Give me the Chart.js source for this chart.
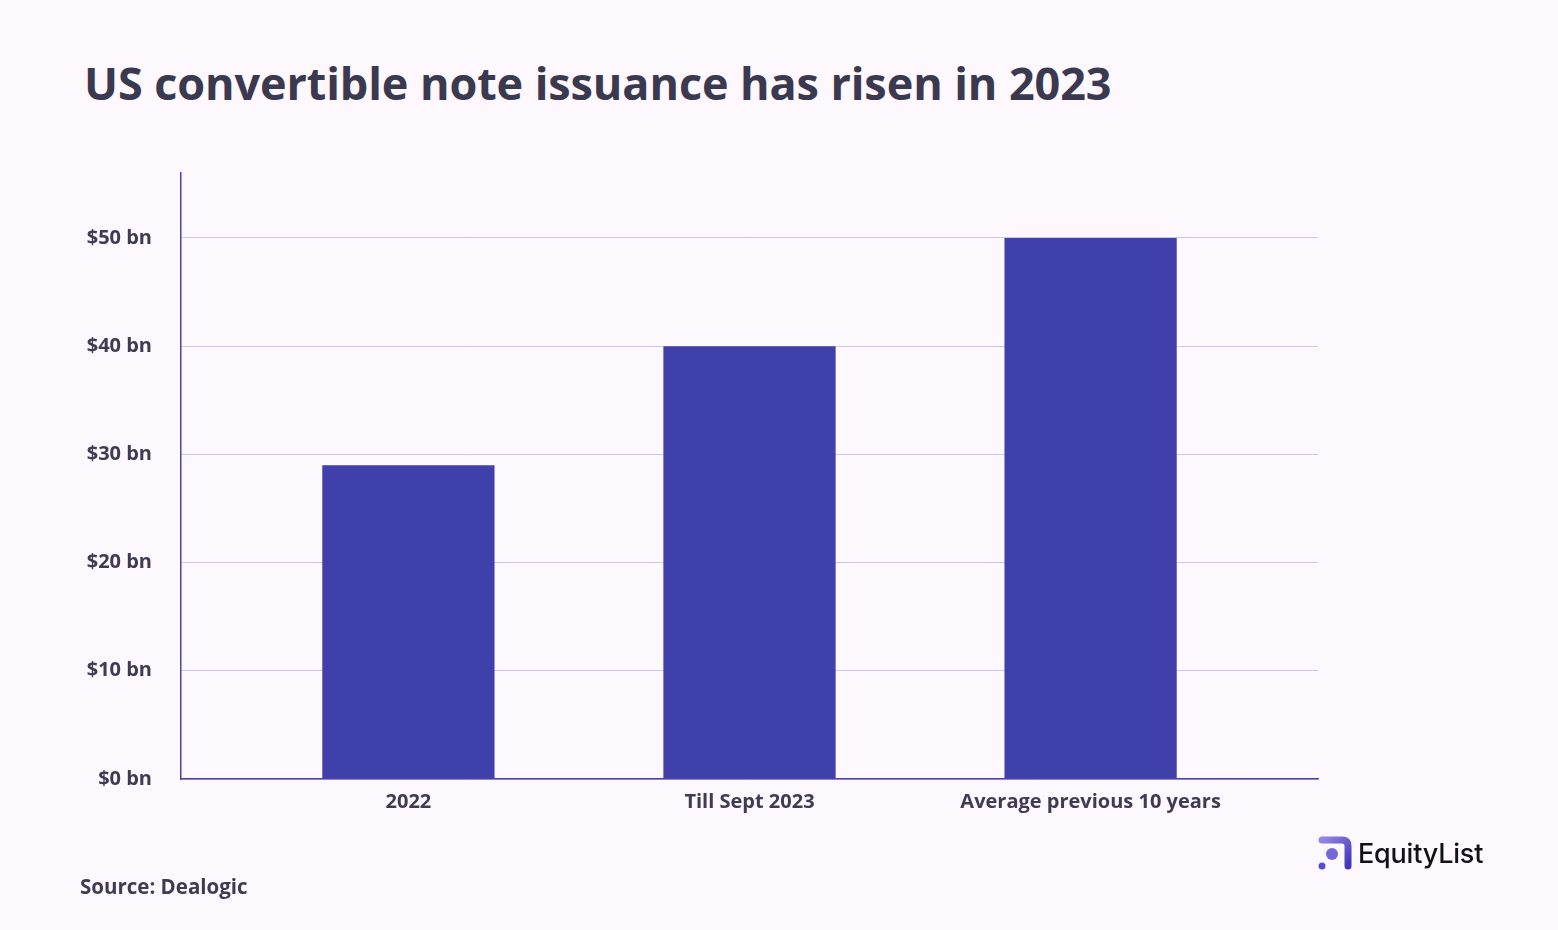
<!DOCTYPE html>
<html>
<head>
<meta charset="utf-8">
<script src="https://cdn.jsdelivr.net/npm/chart.js@4.4.0/dist/chart.umd.min.js"></script>
<style>
  html, body { margin: 0; padding: 0; background: #fdf8fd; }
  body { width: 1558px; height: 930px; position: relative; overflow: hidden; font-family: "Open Sans", "Inter", sans-serif; }
  #title { position: absolute; left: 84px; top: 52px; font-size: 45px; font-weight: 700; color: #3b3950; letter-spacing: -0.1px; white-space: nowrap; }
  #source { position: absolute; left: 80px; top: 872px; font-size: 20.5px; font-weight: 700; color: #3f3b52; }
  #logo { position: absolute; left: 1318px; top: 836px; display: flex; align-items: center; }
  #logo span { font-family: "Inter", sans-serif; font-size: 27px; font-weight: 500; color: #121018; margin-left: 6px; letter-spacing: -0.2px; }
  #wrap { position: absolute; left: 0; top: 0; width: 1558px; height: 930px; }
</style>
</head>
<body>
<div id="title">US convertible note issuance has risen in 2023</div>
<div id="wrap"><canvas id="c"></canvas></div>
<div id="source">Source: Dealogic</div>
<div id="logo">
  <svg width="34" height="34" viewBox="0 0 34 34">
    <defs>
      <linearGradient id="g" x1="0" y1="0" x2="1" y2="1">
        <stop offset="0" stop-color="#8f86e6"/>
        <stop offset="1" stop-color="#4336b8"/>
      </linearGradient>
    </defs>
    <path d="M4,4 H24 Q30,4 30,10 V30" fill="none" stroke="url(#g)" stroke-width="7" stroke-linecap="round" stroke-linejoin="round"/>
    <circle cx="14" cy="18" r="6" fill="#7467d6"/>
    <circle cx="4" cy="30" r="3.5" fill="#5a4dcc"/>
  </svg>
  <span>EquityList</span>
</div>
<script>
const categories = ["2022", "Till Sept 2023", "Average previous 10 years"];
const issuanceBn = [29, 40, 50];
const yTicks = [0, 10, 20, 30, 40, 50];

const points = categories.map((c, i) => ({ x: i, y: issuanceBn[i] }));
const labelColor = "#3f3b52";
const tickFont = { family: "'Open Sans', sans-serif", size: 20, weight: "700" };

new Chart(document.getElementById("c"), {
  type: "bar",
  data: {
    datasets: [{
      data: points,
      backgroundColor: "#4040aa",
      borderWidth: 0,
      categoryPercentage: 1,
      barPercentage: 0.505
    }]
  },
  options: {
    responsive: true,
    maintainAspectRatio: false,
    animation: false,
    layout: { padding: { top: 173, right: 240, left: 0, bottom: 0 } },
    plugins: { legend: { display: false }, tooltip: { enabled: false } },
    scales: {
      x: {
        type: "linear",
        offset: false,
        min: -2 / 3,
        max: categories.length - 1 + 2 / 3,
        afterBuildTicks: (s) => { s.ticks = categories.map((c, i) => ({ value: i })); },
        afterFit: (s) => { s.height = 151; },
        grid: { display: false, offset: false },
        border: { display: true, color: "#4a44a8", width: 1.5 },
        ticks: {
          color: labelColor,
          font: tickFont,
          padding: 3,
          maxRotation: 0,
          autoSkip: false,
          callback: (v) => categories[v]
        }
      },
      y: {
        min: 0,
        max: 56,
        afterBuildTicks: (s) => { s.ticks = yTicks.map(v => ({ value: v })); },
        afterFit: (s) => { s.width = 181; },
        grid: { color: "#cdc6ec", lineWidth: 1, drawTicks: false },
        border: { display: true, color: "#4a44a8", width: 1.5 },
        ticks: {
          color: labelColor,
          font: tickFont,
          padding: 29,
          callback: (v) => "$" + v + " bn"
        }
      }
    }
  }
});
</script>
</body>
</html>
